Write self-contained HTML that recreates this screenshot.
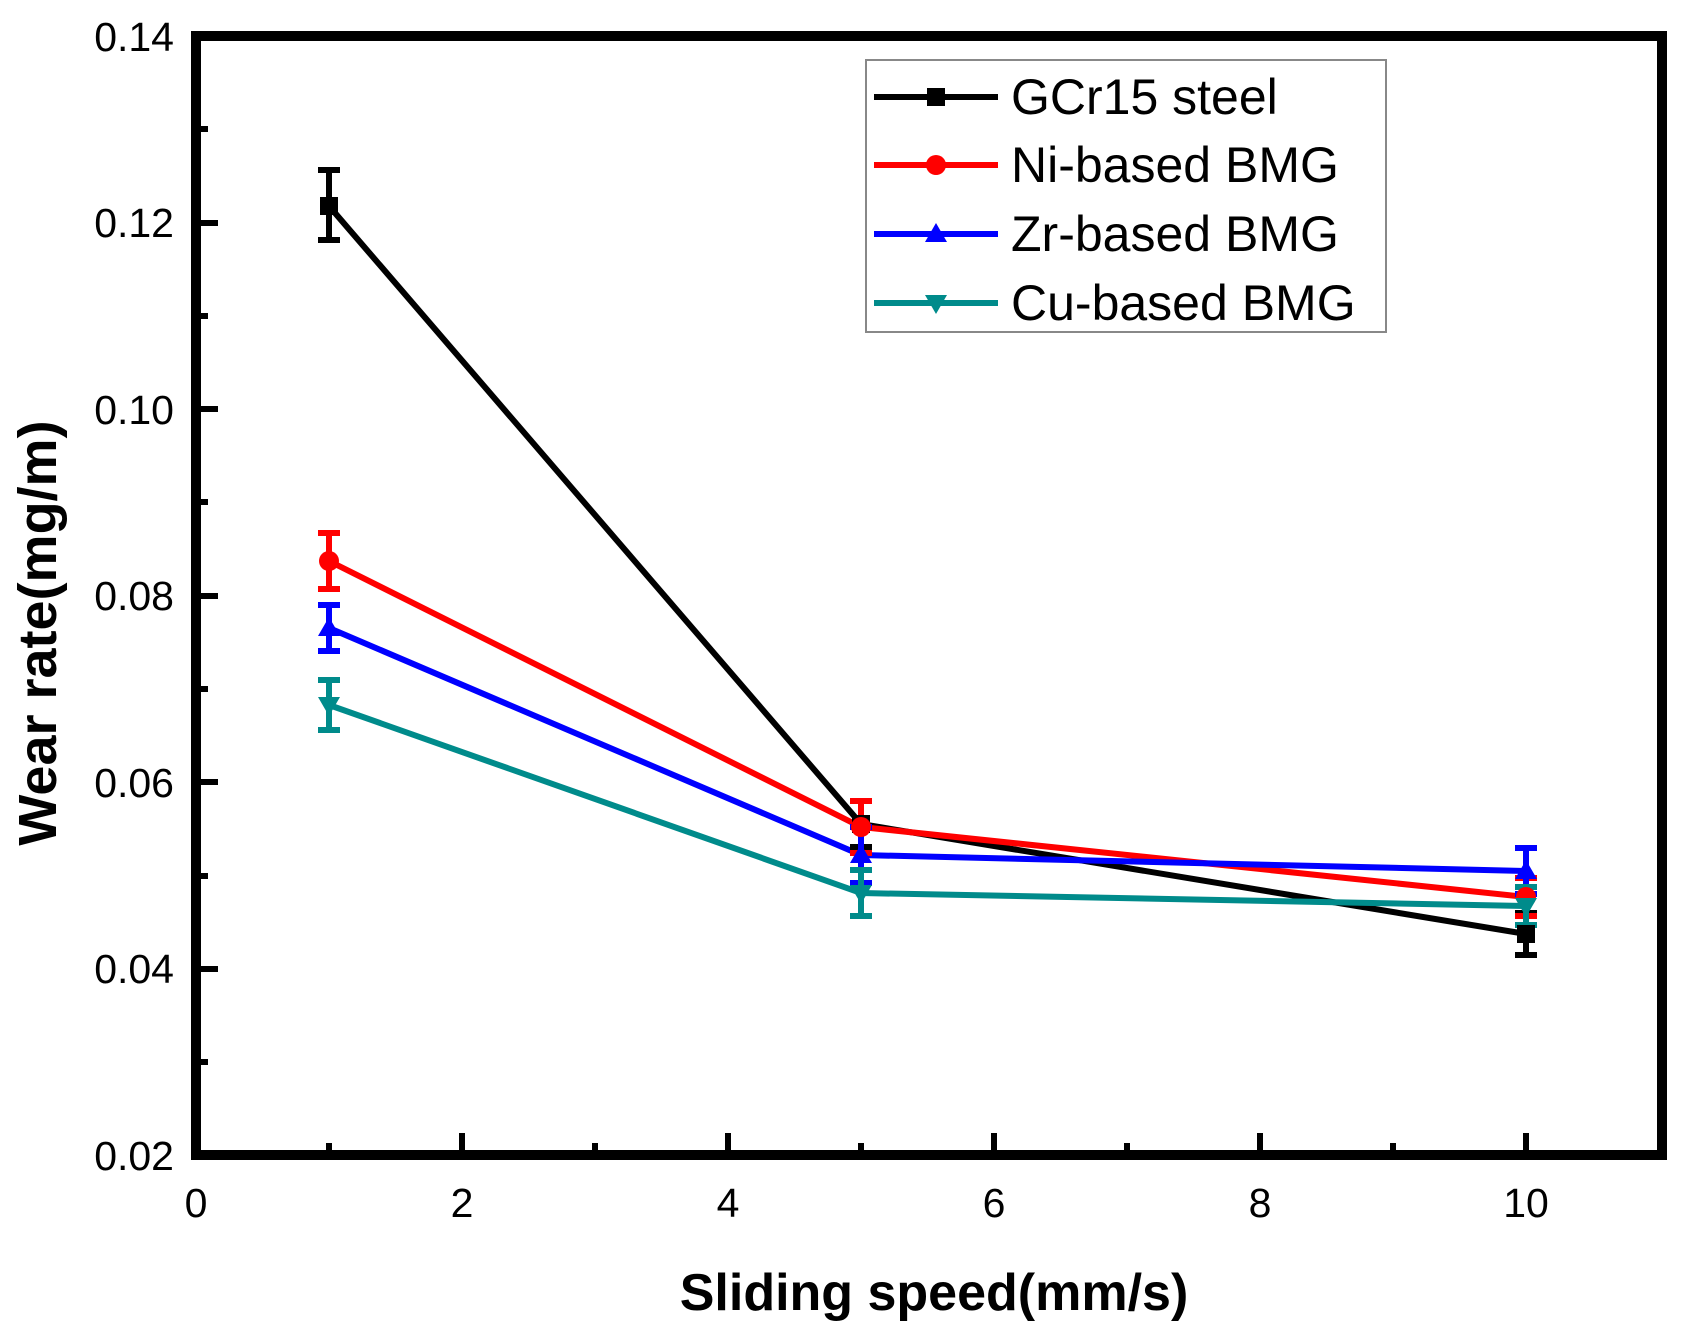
<!DOCTYPE html>
<html><head><meta charset="utf-8"><style>html,body{margin:0;padding:0;background:#fff;}svg{display:block}</style></head>
<body>
<svg width="1683" height="1331" viewBox="0 0 1683 1331" xmlns="http://www.w3.org/2000/svg" font-family="Liberation Sans, sans-serif">
<rect width="1683" height="1331" fill="#fff"/>
<g stroke="#000" stroke-width="6">
<line x1="462" y1="1155" x2="462" y2="1133"/><line x1="728" y1="1155" x2="728" y2="1133"/><line x1="994" y1="1155" x2="994" y2="1133"/><line x1="1260" y1="1155" x2="1260" y2="1133"/><line x1="1526" y1="1155" x2="1526" y2="1133"/>
<line x1="329" y1="1155" x2="329" y2="1143"/><line x1="595" y1="1155" x2="595" y2="1143"/><line x1="861" y1="1155" x2="861" y2="1143"/><line x1="1127" y1="1155" x2="1127" y2="1143"/><line x1="1393" y1="1155" x2="1393" y2="1143"/>
<line x1="196" y1="969" x2="218" y2="969"/><line x1="196" y1="782" x2="218" y2="782"/><line x1="196" y1="596" x2="218" y2="596"/><line x1="196" y1="409" x2="218" y2="409"/><line x1="196" y1="223" x2="218" y2="223"/>
<line x1="196" y1="1062" x2="208" y2="1062"/><line x1="196" y1="876" x2="208" y2="876"/><line x1="196" y1="689" x2="208" y2="689"/><line x1="196" y1="502" x2="208" y2="502"/><line x1="196" y1="316" x2="208" y2="316"/><line x1="196" y1="129" x2="208" y2="129"/>
</g>
<rect x="196" y="36" width="1466" height="1119" fill="none" stroke="#000" stroke-width="10"/>
<g font-size="41" fill="#000" text-anchor="middle">
<text x="196" y="1217">0</text><text x="462" y="1217">2</text><text x="728" y="1217">4</text><text x="994" y="1217">6</text><text x="1260" y="1217">8</text><text x="1526" y="1217">10</text>
</g>
<g font-size="41" fill="#000" text-anchor="end">
<text x="174" y="1170">0.02</text><text x="174" y="983">0.04</text><text x="174" y="797">0.06</text><text x="174" y="610">0.08</text><text x="174" y="424">0.10</text><text x="174" y="237">0.12</text><text x="174" y="51">0.14</text>
</g>
<text x="934" y="1310" font-size="52" font-weight="bold" text-anchor="middle">Sliding speed(mm/s)</text>
<text transform="translate(56,633) rotate(-90)" font-size="54" font-weight="bold" text-anchor="middle">Wear rate(mg/m)</text>
<g stroke-width="6" fill="none">
<polyline stroke="#000" points="329,206 861,824 1526,934"/>
<polyline stroke="#ff0000" points="329,561 861,827 1526,897"/>
<polyline stroke="#0000ff" points="329,628 861,855 1526,871"/>
<polyline stroke="#008b8b" points="329,705 861,893 1526,906"/>
</g>
<g stroke-width="6" fill="none">
<path stroke="#000" d="M329,170V240M318,170H340M318,240H340M861,801V847M850,801H872M850,847H872M1526,913V955M1515,913H1537M1515,955H1537"/>
<path stroke="#ff0000" d="M329,533V589M318,533H340M318,589H340M861,801V853M850,801H872M850,853H872M1526,878V916M1515,878H1537M1515,916H1537"/>
<path stroke="#0000ff" d="M329,605V651M318,605H340M318,651H340M861,827V883M850,827H872M850,883H872M1526,848V894M1515,848H1537M1515,894H1537"/>
<path stroke="#008b8b" d="M329,680V730M318,680H340M318,730H340M861,870V916M850,870H872M850,916H872M1526,887V925M1515,887H1537M1515,925H1537"/>
</g>
<g>
<rect x="320" y="197" width="18" height="18" fill="#000"/><rect x="852" y="815" width="18" height="18" fill="#000"/><rect x="1517" y="925" width="18" height="18" fill="#000"/>
<circle cx="329" cy="561" r="10" fill="#ff0000"/><circle cx="861" cy="827" r="10" fill="#ff0000"/><circle cx="1526" cy="897" r="10" fill="#ff0000"/>
<path d="M329,617l11,19h-22z M861,844l11,19h-22z M1526,860l11,19h-22z" fill="#0000ff"/>
<path d="M329,716l11,-19h-22z M861,904l11,-19h-22z M1526,917l11,-19h-22z" fill="#008b8b"/>
</g>
<rect x="866" y="60" width="520" height="272" fill="#fff" stroke="#888" stroke-width="2"/>
<g stroke-width="6">
<line x1="874" y1="97" x2="998" y2="97" stroke="#000"/>
<line x1="874" y1="165" x2="998" y2="165" stroke="#ff0000"/>
<line x1="874" y1="234" x2="998" y2="234" stroke="#0000ff"/>
<line x1="874" y1="303" x2="998" y2="303" stroke="#008b8b"/>
</g>
<rect x="927" y="88" width="18" height="18" fill="#000"/>
<circle cx="936" cy="165" r="10" fill="#ff0000"/>
<path d="M936,223l11,19h-22z" fill="#0000ff"/>
<path d="M936,314l11,-19h-22z" fill="#008b8b"/>
<g font-size="50" fill="#000">
<text x="1011" y="114">GCr15 steel</text>
<text x="1011" y="182">Ni-based BMG</text>
<text x="1011" y="251">Zr-based BMG</text>
<text x="1011" y="320">Cu-based BMG</text>
</g>
</svg>
</body></html>
